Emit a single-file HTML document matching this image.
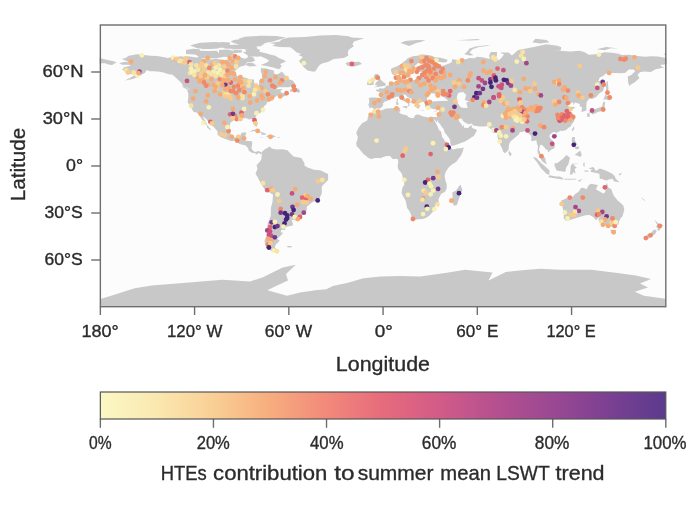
<!DOCTYPE html>
<html><head><meta charset="utf-8">
<style>
html,body{margin:0;padding:0;background:#fff;}
body{width:688px;height:513px;overflow:hidden;position:relative;font-family:"Liberation Sans",sans-serif;}
#w{position:absolute;left:0;top:0;width:688px;height:513px;will-change:transform;}
svg{position:absolute;left:0;top:0;}
text{font-family:"Liberation Sans",sans-serif;fill:#2b2b2b;stroke:#2b2b2b;stroke-width:0.35px;}
</style></head><body>
<div id="w"><svg width="688" height="513" viewBox="0 0 688 513">
<defs>
<linearGradient id="cb" x1="0" x2="1" y1="0" y2="0">
<stop offset="0" stop-color="#fbf8c4"/>
<stop offset="0.1" stop-color="#fae8b0"/>
<stop offset="0.2" stop-color="#f9cf96"/>
<stop offset="0.3" stop-color="#f7ad7e"/>
<stop offset="0.4" stop-color="#f2897a"/>
<stop offset="0.5" stop-color="#e66b7c"/>
<stop offset="0.6" stop-color="#d25b88"/>
<stop offset="0.7" stop-color="#b5508f"/>
<stop offset="0.8" stop-color="#9a4893"/>
<stop offset="0.9" stop-color="#7b4092"/>
<stop offset="1" stop-color="#5b3a8e"/>
</linearGradient>
</defs>
<rect x="100.35" y="25.0" width="565.45" height="281.70" fill="#fcfcfc"/>
<path d="M119.2,63.2L124.7,61.8L128.9,62.4L126.0,60.8L122.0,59.0L121.1,58.9L125.5,57.9L128.8,55.8L137.1,54.2L144.3,55.0L150.6,55.8L156.9,56.1L161.6,56.8L167.9,57.9L171.8,56.9L176.5,57.1L180.5,56.3L185.2,57.1L187.5,56.3L193.0,57.1L199.3,57.9L204.0,59.0L211.9,59.4L215.8,58.8L222.9,59.7L229.1,59.7L232.3,59.0L234.6,53.5L237.0,55.5L240.9,57.4L244.9,58.8L249.6,56.6L253.5,57.6L255.1,60.7L251.1,62.2L247.7,61.8L244.9,65.4L240.6,66.6L235.4,70.2L235.1,73.8L237.8,76.3L244.9,77.4L249.6,79.3L253.8,79.6L254.3,82.9L256.6,85.6L259.0,85.1L259.1,80.6L262.4,77.7L261.8,74.3L260.6,70.7L261.2,68.0L266.1,68.5L270.0,69.6L273.9,70.4L273.9,73.5L277.1,74.6L280.2,72.7L281.8,71.5L285.7,75.9L288.0,79.0L292.8,80.4L295.6,84.3L293.5,85.3L288.8,87.3L278.6,87.3L274.7,89.9L271.9,92.3L275.5,89.2L281.8,89.0L282.1,90.1L280.2,90.7L281.3,92.6L286.5,94.2L288.8,93.5L287.3,95.1L280.2,97.8L279.1,96.4L281.8,95.0L277.8,95.4L275.5,96.7L272.8,97.6L271.9,99.8L273.1,100.6L270.8,101.1L266.8,102.2L266.8,104.0L264.8,105.6L263.4,107.2L264.5,110.3L262.8,111.5L259.8,113.0L256.6,115.3L255.2,118.1L256.5,121.4L257.4,123.9L256.8,126.4L255.7,126.4L254.6,124.4L253.2,121.6L251.8,119.1L249.1,119.4L246.4,118.3L244.1,118.3L241.7,118.6L242.7,120.3L239.4,119.7L235.7,119.4L233.9,120.2L230.4,122.8L229.9,125.5L229.5,130.6L230.4,133.3L232.3,136.1L234.6,137.4L237.8,136.7L240.1,136.1L241.1,133.8L241.7,132.7L246.4,132.2L245.6,134.9L244.9,136.9L244.4,140.5L247.2,141.1L251.1,141.1L252.4,142.5L251.8,146.3L251.5,148.6L253.2,151.0L255.4,151.9L258.2,151.0L261.5,152.2L260.7,154.6L259.0,152.7L256.8,154.4L255.1,153.3L251.9,152.7L248.6,150.4L248.2,148.3L245.6,145.5L242.5,144.7L239.4,143.9L237.0,141.4L233.9,140.8L231.5,141.3L228.0,140.0L223.6,138.3L220.5,136.9L217.4,134.6L217.8,132.2L216.9,130.5L213.4,126.7L211.1,124.8L208.7,122.2L206.4,119.2L202.9,116.2L203.7,118.6L205.9,121.7L206.8,124.4L209.5,128.0L211.1,129.5L210.1,130.0L207.2,127.4L206.8,125.2L203.2,122.8L203.7,121.6L201.2,118.6L199.1,115.0L196.9,112.6L193.6,111.9L191.6,108.6L190.7,106.7L188.6,103.6L187.7,102.5L188.0,100.1L188.3,97.0L188.3,93.4L187.2,90.1L189.9,89.2L186.7,87.3L182.8,86.0L182.0,83.7L178.6,80.2L176.5,78.2L172.6,74.8L168.7,74.3L163.5,72.6L159.3,71.8L154.1,71.2L149.8,71.2L146.7,70.1L145.1,72.7L141.2,75.1L137.3,77.4L132.5,79.0L127.8,80.1L124.7,80.6L129.4,78.2L134.1,75.4L136.2,73.8L133.3,74.3L128.9,74.0L128.3,72.3L125.2,71.9L123.6,70.4L122.2,69.6L124.2,67.3L130.2,65.7L130.2,64.9L127.1,64.8L122.0,64.8ZM288.8,37.5L304.5,36.9L320.2,35.5L336.0,35.0L348.5,36.3L351.7,37.5L364.2,38.3L354.0,41.4L352.4,44.6L354.0,46.1L348.5,50.0L347.7,53.2L348.5,55.5L343.8,57.9L333.6,59.1L328.1,62.1L322.6,63.2L319.5,64.9L317.1,68.4L315.2,71.6L312.4,71.6L307.7,70.4L303.8,67.3L301.4,64.1L299.0,61.3L301.4,58.6L303.0,57.1L298.3,55.0L301.4,54.0L296.7,52.4L293.1,49.3L290.4,47.2L279.4,46.9L272.3,45.7L275.5,44.1L269.2,43.0L279.4,41.4L282.6,39.1ZM261.5,152.2L264.5,149.4L270.0,146.6L271.6,148.6L276.3,149.4L282.6,149.3L287.3,150.2L293.5,156.5L301.4,158.0L304.5,163.2L304.5,165.8L307.7,167.4L314.0,169.8L320.2,170.2L328.1,174.1L328.1,179.9L321.8,186.2L321.8,193.2L318.7,200.3L312.9,201.8L306.9,206.5L306.7,210.5L301.4,215.9L299.0,219.1L296.7,220.6L291.3,219.4L292.8,223.0L292.8,225.6L285.7,226.9L285.2,229.7L281.0,230.0L281.0,232.4L283.3,232.8L280.2,236.3L277.1,238.6L279.7,240.7L275.8,244.4L274.7,247.2L275.8,248.5L279.4,251.9L273.1,251.9L266.1,248.0L264.5,241.0L266.8,234.7L267.6,230.0L267.6,223.8L270.8,215.9L270.9,208.1L272.5,201.8L273.0,194.8L264.5,189.3L260.6,183.1L257.4,176.8L255.5,173.7L257.4,169.0L256.6,165.1L259.0,162.7L261.3,159.6L261.7,154.9ZM286.8,246.0L292.0,246.1L291.5,247.2L288.0,247.5ZM374.3,109.5L373.0,108.3L371.5,107.6L369.1,107.9L369.3,105.9L368.2,105.1L369.1,102.9L369.3,100.1L368.5,98.6L370.5,97.5L374.3,97.6L377.6,97.8L380.2,97.9L381.2,95.7L381.2,93.9L379.6,92.1L376.0,90.9L375.8,89.8L378.4,89.5L380.1,88.1L381.2,88.5L383.4,88.4L385.4,87.3L385.6,86.2L387.8,85.6L389.0,85.3L390.3,83.8L390.9,82.9L393.8,82.1L396.0,82.1L396.9,81.3L396.6,79.0L395.8,77.3L397.8,76.3L399.7,75.5L399.3,77.4L400.2,77.7L398.8,79.8L400.2,80.7L402.7,80.7L405.5,81.5L409.0,80.6L412.3,80.2L414.3,79.9L416.4,79.0L416.1,77.0L418.6,75.5L420.0,76.6L421.4,76.2L421.2,74.6L420.0,73.2L423.9,72.6L427.1,72.7L430.5,72.1L428.3,71.2L424.7,71.3L419.2,72.1L416.7,70.7L416.8,68.0L418.4,66.0L421.9,64.3L423.0,63.8L420.8,62.9L417.9,62.9L416.5,64.4L414.5,66.2L411.3,67.7L410.2,69.6L410.1,70.9L412.6,71.9L411.8,73.2L409.3,75.2L408.8,77.3L406.2,77.9L403.5,79.1L403.2,77.4L401.8,75.7L400.7,73.7L399.4,72.7L396.1,74.8L393.3,74.9L391.9,73.5L391.2,71.2L390.9,69.0L392.5,67.9L396.4,66.5L399.6,64.9L402.7,62.6L405.9,60.2L407.4,58.6L410.6,57.1L413.7,56.1L417.6,55.8L420.5,54.7L423.4,54.6L427.8,54.9L431.8,55.8L434.9,57.2L440.4,57.7L447.5,59.7L446.7,61.9L443.5,62.6L434.9,61.6L437.3,64.9L442.0,66.0L445.9,64.8L451.4,62.6L452.5,59.0L455.3,59.7L458.5,60.1L467.1,59.0L468.7,58.0L474.2,58.2L477.3,56.8L483.6,57.4L489.9,59.0L489.1,55.5L490.7,51.9L497.0,51.9L497.0,54.7L496.2,57.4L498.5,60.2L500.9,58.6L504.0,54.4L500.1,52.4L508.7,52.4L511.9,55.5L518.2,50.0L533.9,46.9L546.4,44.2L557.4,45.8L561.3,47.2L560.6,50.4L549.6,51.1L559.0,50.8L570.0,51.6L579.4,50.8L584.1,51.9L588.8,54.7L598.3,54.0L604.5,52.2L612.4,52.7L618.7,53.8L621.8,54.9L629.7,54.7L634.4,55.8L645.4,56.8L650.1,56.3L657.9,56.6L663.4,57.6L666.6,57.9L666.6,63.8L663.4,64.8L661.9,64.6L660.3,65.7L664.2,67.6L655.6,69.3L650.9,71.9L643.8,71.5L639.9,72.3L637.5,75.1L639.4,77.9L637.5,80.1L634.4,82.6L632.0,83.7L629.2,86.0L628.1,82.1L627.8,76.6L631.2,75.1L635.2,71.2L633.6,69.6L628.9,69.6L625.0,73.0L620.2,73.2L616.3,73.0L610.8,72.9L606.1,73.5L603.0,75.9L599.8,77.4L598.3,81.0L601.4,81.3L605.0,82.6L604.5,85.3L603.8,88.4L603.0,91.0L599.8,93.1L595.9,97.3L592.0,98.9L589.6,98.6L588.4,99.7L586.8,101.7L586.3,105.4L586.5,109.5L586.0,110.8L583.3,111.5L581.5,111.9L581.8,108.7L582.2,106.8L579.9,106.8L579.7,104.0L578.3,103.4L575.0,102.5L573.4,105.0L573.1,102.0L570.8,103.4L568.4,104.5L567.9,105.8L569.8,107.3L572.8,106.7L575.5,107.6L572.3,109.4L570.3,111.2L572.0,112.2L573.0,114.8L574.5,116.2L574.4,117.5L574.7,119.2L573.9,121.6L571.6,124.4L570.8,126.4L568.4,127.7L566.1,130.0L562.4,131.0L561.3,130.6L558.2,132.0L556.6,132.7L556.3,134.1L555.4,132.2L553.5,131.9L550.7,133.8L549.3,136.1L550.4,138.5L553.5,141.6L554.8,144.7L554.6,147.9L552.7,148.9L550.8,149.9L548.0,152.4L547.7,149.9L545.6,149.3L544.2,147.1L541.6,144.7L540.1,145.2L538.9,149.7L539.8,151.5L540.8,154.4L541.7,155.1L543.6,156.1L545.5,158.7L545.5,161.2L546.9,163.7L545.6,163.8L542.3,161.6L540.9,159.3L540.6,156.5L537.8,153.3L537.5,151.0L537.9,146.3L536.7,142.7L536.4,140.0L533.1,141.1L531.0,140.8L531.5,137.7L530.7,135.3L528.4,133.5L527.6,131.6L525.2,131.0L522.9,131.7L519.7,132.2L518.9,134.6L515.8,136.9L512.3,139.9L510.3,141.4L509.0,144.7L508.6,149.7L506.4,151.9L504.8,153.2L503.2,151.8L502.0,148.2L500.4,145.2L498.4,140.8L497.4,136.1L497.4,132.7L496.6,131.6L493.8,133.3L491.5,131.0L493.5,130.0L490.7,129.1L488.8,127.5L487.5,126.1L484.4,126.4L479.8,126.4L475.0,125.8L473.1,125.5L471.8,123.4L468.7,124.2L465.5,122.7L463.5,121.6L461.9,118.7L459.9,118.4L458.5,119.5L459.3,121.7L461.0,123.8L461.8,124.8L462.4,126.7L463.7,125.0L464.1,126.9L463.8,127.8L467.9,128.1L470.2,125.9L471.5,124.7L471.7,126.9L472.9,128.6L475.3,128.9L477.0,130.6L475.0,133.8L473.9,136.0L472.3,136.7L469.9,138.6L465.1,141.4L460.8,143.0L458.5,143.9L454.5,145.3L451.4,146.0L450.3,143.2L450.1,140.0L448.3,136.9L446.7,134.9L444.6,132.2L443.5,128.8L441.5,126.4L440.4,124.4L438.2,121.9L438.0,119.7L436.9,122.4L434.2,119.0L433.8,116.9L436.8,116.9L437.9,115.0L438.8,112.8L439.3,110.3L439.8,108.6L437.3,108.3L434.1,109.4L431.1,108.3L428.6,108.6L426.0,107.9L424.7,105.6L425.3,104.0L424.2,103.1L423.9,102.0L421.6,101.8L420.3,102.8L418.6,102.5L419.0,104.3L420.8,106.1L419.5,106.5L418.9,108.7L417.2,108.3L416.2,106.7L416.8,105.8L415.6,104.5L414.5,103.7L413.5,102.2L413.7,100.4L412.1,99.3L409.8,98.1L407.1,96.7L405.9,95.1L404.4,94.5L402.4,95.0L402.7,96.7L404.4,97.8L406.2,100.0L408.2,101.1L410.6,101.8L412.1,103.1L410.1,102.6L409.1,103.9L409.9,104.8L408.4,106.4L407.7,105.9L408.5,104.3L407.6,103.2L406.3,102.3L404.8,101.4L402.4,100.6L400.5,99.3L399.6,98.7L399.1,97.1L397.1,96.4L394.9,97.3L393.3,98.4L390.3,97.9L387.9,98.6L388.1,100.3L386.4,101.2L384.5,101.7L382.6,104.0L383.4,105.1L382.0,107.0L379.8,108.4L376.2,108.4L374.6,109.4ZM99.6,57.9L106.6,59.7L111.3,60.7L115.3,61.8L116.5,62.4L114.5,63.5L112.1,65.1L108.2,64.4L105.1,63.3L102.2,63.3L99.6,63.8ZM562.9,200.0L566.1,198.2L569.2,197.8L573.1,196.4L575.2,194.0L578.6,191.7L581.0,188.1L583.3,187.8L586.5,189.3L588.8,184.9L591.2,183.8L595.1,184.6L597.9,184.9L595.9,189.3L601.4,192.5L603.8,193.4L605.3,191.7L605.5,186.0L606.9,182.8L608.5,187.8L611.3,189.0L612.4,192.5L614.0,196.1L617.9,200.7L620.2,202.6L623.4,205.8L624.3,210.0L623.5,212.8L622.6,215.9L620.7,218.3L618.8,221.7L618.7,224.4L615.5,225.0L612.9,227.0L609.3,226.1L604.5,225.8L602.5,224.1L600.6,221.4L598.3,220.6L599.5,216.7L596.1,220.3L593.5,217.2L589.6,215.1L585.7,215.3L581.0,216.4L577.8,217.5L573.9,218.7L568.4,220.6L565.3,220.6L563.7,218.3L563.7,212.8L562.4,206.5L561.3,200.3ZM434.2,119.0L434.4,120.5L435.7,122.8L436.5,124.2L438.0,127.5L439.0,129.9L441.0,131.4L441.7,134.6L442.0,136.9L443.5,138.5L444.8,141.1L447.8,143.2L449.5,145.2L451.1,147.1L450.8,147.7L453.1,149.6L457.7,148.3L460.8,148.2L463.7,147.4L463.3,149.4L462.7,151.8L460.8,155.7L458.5,158.8L456.1,161.9L452.2,164.3L449.0,167.1L447.0,169.8L445.4,172.4L444.6,176.0L445.1,178.4L445.6,181.5L446.7,183.8L446.7,188.5L445.1,191.7L441.2,193.7L438.5,199.0L438.8,203.1L434.9,205.8L434.6,207.9L434.1,210.5L432.1,212.5L430.2,215.1L427.1,217.2L423.9,218.7L420.8,219.2L417.6,219.2L414.5,220.3L412.6,219.7L412.0,219.1L411.7,216.7L410.2,212.8L409.0,210.5L407.1,208.1L405.9,201.8L405.4,200.3L402.7,195.6L401.6,192.9L402.4,187.8L404.4,184.6L403.8,180.7L402.4,176.0L401.9,173.7L400.4,171.8L398.0,169.0L397.7,165.8L398.2,162.7L398.0,159.6L396.4,158.7L394.1,159.0L392.5,159.1L390.9,157.1L390.1,156.0L387.0,156.0L384.6,156.6L380.7,158.0L378.4,157.9L375.2,157.9L371.3,159.0L368.9,158.2L365.8,155.7L363.4,154.1L362.3,152.5L360.3,150.2L358.7,147.9L356.8,146.4L356.1,143.2L357.2,140.5L357.8,136.9L357.2,135.3L356.2,133.0L357.9,129.1L359.8,125.9L362.3,123.1L365.0,121.7L367.4,120.2L367.8,117.3L369.6,113.9L372.4,112.5L373.8,109.8L374.8,109.7L379.1,110.9L383.1,109.7L386.2,108.6L390.9,108.3L395.6,108.1L398.5,107.5L400.4,107.9L399.6,109.2L400.5,110.6L399.1,112.2L400.4,113.4L402.7,114.5L406.9,115.3L408.2,116.9L412.1,118.3L414.3,117.6L414.6,115.8L416.8,114.4L419.2,114.8L422.3,116.2L428.6,117.5L431.0,116.6L433.8,116.9ZM460.5,184.6L462.4,190.1L460.8,193.2L456.9,205.0L453.8,205.8L451.7,200.3L452.7,196.4L452.2,192.5L456.1,190.4L458.5,187.0ZM277.8,69.1L273.1,67.6L267.6,66.3L260.6,64.9L265.3,63.3L269.2,61.0L266.8,59.1L260.6,56.3L257.4,56.8L248.0,55.5L242.5,51.9L248.8,50.8L256.6,50.4L261.3,52.2L266.8,53.5L270.8,54.7L275.5,55.8L277.8,57.4L284.1,60.2L286.0,61.5L280.2,64.1L281.8,66.5L279.4,68.2L281.8,69.3ZM198.5,56.3L195.4,54.7L196.2,52.4L200.9,50.8L207.2,51.1L216.6,50.8L218.9,53.2L224.4,55.0L223.6,57.1L216.6,58.2L207.2,58.6L196.9,57.9ZM186.0,50.0L193.0,48.8L199.3,49.3L202.4,53.2L194.6,54.4L186.0,54.0ZM238.6,44.6L232.3,42.5L241.7,41.4L238.6,38.8L244.9,36.7L260.6,35.8L276.3,36.1L285.7,37.5L273.1,41.4L265.3,43.0L260.6,46.3L254.3,46.4L242.5,46.1ZM230.7,41.4L233.9,39.9L241.7,39.1L246.4,41.4L233.9,43.0ZM257.4,49.1L249.6,49.3L238.6,48.8L237.0,46.6L243.3,46.0L256.6,46.6ZM233.9,50.0L241.7,50.0L241.7,52.4L233.1,53.2ZM222.9,50.8L227.6,50.0L232.3,50.8L230.7,53.5L222.9,53.2ZM193.0,44.6L197.7,45.3L204.0,46.0L213.4,45.7L219.7,46.9L218.2,48.5L210.3,49.1L202.4,49.1L197.7,47.7L191.5,46.1ZM221.3,46.1L229.1,45.3L237.0,46.9L235.4,49.1L224.4,48.5ZM221.3,41.9L230.7,42.5L226.0,44.6L216.6,44.6ZM232.3,56.6L233.9,58.2L227.6,58.6ZM245.6,64.9L248.0,62.6L253.5,63.3L256.6,66.0L249.6,66.5ZM289.9,90.3L291.2,89.2L292.8,86.5L295.9,85.1L295.9,87.9L299.0,88.9L300.1,91.5L299.0,92.8L295.1,91.4L289.9,91.4ZM189.4,90.1L186.7,89.2L181.6,86.5L183.6,86.3L187.5,88.1ZM249.6,131.6L252.7,130.0L255.8,129.5L258.2,130.6L261.3,132.0L264.5,133.0L266.7,134.2L264.5,134.7L261.2,134.7L261.8,133.5L259.8,132.2L256.6,131.7L254.3,131.1L251.1,131.6ZM266.1,137.1L268.4,134.7L270.8,134.7L273.9,135.5L275.8,136.7L273.1,137.4L270.8,138.3L269.2,137.5ZM259.9,137.2L263.2,137.4L262.4,137.8L260.2,137.7ZM277.4,137.1L280.0,137.2L279.9,137.7L277.5,137.7ZM378.0,85.4L374.9,84.9L376.0,82.4L378.4,80.6L374.4,79.0L373.7,76.6L375.2,74.1L377.6,74.1L379.9,76.6L380.7,79.8L383.1,82.1L385.7,83.4L385.4,85.7L374.1,87.6ZM370.5,85.3L366.9,84.8L367.4,81.3L371.3,79.3L373.7,81.0L373.7,84.5ZM345.4,63.3L348.5,61.9L359.5,61.8L361.9,64.1L354.8,66.6L347.7,66.0ZM402.6,106.2L407.6,105.9L406.8,108.4L402.7,107.0ZM396.0,101.8L398.0,101.4L398.5,104.7L396.4,105.0ZM396.6,99.7L398.0,98.6L397.8,101.1L396.6,101.1ZM420.0,110.6L424.4,110.6L424.1,111.1L420.5,110.8ZM433.8,111.5L437.4,110.0L436.3,111.2L434.6,111.7ZM465.5,53.2L467.9,50.8L469.5,48.5L475.7,46.6L486.7,45.3L490.7,45.5L478.9,46.9L472.6,49.3L469.5,52.4L473.4,55.2L469.5,55.4L464.0,54.0ZM400.4,43.0L405.1,41.0L409.8,40.6L417.6,40.0L425.5,40.3L420.8,41.9L416.1,43.0L412.9,44.6L409.0,46.1L405.1,44.6ZM456.9,40.3L477.3,39.1L480.5,39.9L469.5,40.6ZM535.4,38.8L546.4,39.9L549.6,42.2L540.1,43.5L532.3,42.2ZM606.1,46.9L618.7,48.5L610.8,48.2L604.5,50.2L596.7,49.3ZM664.2,53.8L666.6,53.8L666.6,54.7L663.4,54.4ZM591.2,110.3L598.3,107.9L602.2,106.4L603.0,102.5L605.3,101.4L604.5,106.4L603.0,111.1L598.3,111.7L595.1,113.4L588.7,112.6ZM586.8,113.4L589.6,113.0L589.6,116.9L587.6,117.0ZM591.2,112.3L594.3,112.3L594.3,113.7L592.0,114.5ZM603.0,100.9L605.3,94.8L611.6,98.1L608.5,100.1L604.5,99.3ZM606.1,87.6L606.6,81.0L607.7,81.3L608.5,89.2L606.1,93.9ZM571.7,129.9L573.9,126.3L574.4,128.3L572.8,131.4ZM553.7,135.8L556.6,134.4L557.4,135.3L555.1,137.4ZM571.6,140.5L572.3,136.9L575.0,136.9L574.7,140.0L577.8,145.5L575.5,144.3L572.5,143.5ZM574.7,154.9L580.2,150.5L581.8,154.9L580.2,156.9L577.8,155.7ZM575.5,147.1L578.6,146.3L579.4,147.9L577.1,149.4L574.7,148.6ZM508.4,153.3L509.0,150.5L511.7,154.1L510.3,156.5ZM554.3,163.5L557.4,163.0L562.9,158.8L566.5,154.9L570.0,157.7L568.4,164.3L566.1,167.4L565.3,172.1L562.9,171.6L556.6,170.5L554.6,165.8ZM532.8,157.1L536.2,157.7L540.9,162.7L546.4,167.4L549.6,170.5L549.3,174.9L546.4,173.7L540.9,168.2L537.8,163.2ZM548.3,176.5L549.6,175.2L555.9,176.5L559.8,176.6L562.9,177.9L562.9,179.5L555.9,178.5L549.6,177.6ZM563.7,178.7L570.0,178.7L576.3,178.8L576.3,179.6L570.0,179.8L563.7,179.6ZM577.8,180.4L582.9,179.0L579.4,181.8ZM570.0,174.5L570.8,165.8L572.3,163.8L579.4,163.5L573.1,164.6L576.7,167.4L574.7,169.0L575.5,173.7L573.1,172.1L572.3,174.5ZM583.3,163.0L584.9,162.4L584.4,165.1L584.9,167.1L583.3,165.8ZM584.1,170.5L588.1,170.5L588.5,171.8L584.9,171.8ZM588.8,168.2L593.5,167.1L595.9,171.0L599.8,168.4L604.5,169.9L611.9,173.4L614.8,176.0L615.5,178.4L619.5,182.3L614.3,181.5L612.4,178.7L608.8,179.6L606.9,180.4L604.5,180.1L601.4,178.7L599.8,179.0L599.4,173.7L595.1,172.7L591.2,172.1L590.4,170.2L592.8,169.4L590.4,169.0ZM618.7,174.5L621.8,172.4L621.0,174.5L619.5,175.6ZM610.2,229.7L616.0,229.9L615.5,233.5L612.4,234.1L610.8,231.6ZM654.3,219.8L657.2,222.2L659.5,224.5L663.4,224.9L661.1,227.2L659.5,230.5L657.3,230.5L657.9,227.7L656.1,227.2L657.2,224.5ZM654.3,229.2L656.8,231.1L654.8,234.4L652.0,235.5L648.5,238.8L644.6,237.8L647.0,234.7L650.9,233.0ZM640.7,197.5L642.2,197.9L645.4,200.6L644.6,200.7ZM100.2,299.0L112.0,295.4L134.7,288.3L151.7,285.4L180.0,283.2L222.5,279.8L250.0,281.6L263.0,277.3L274.0,271.8L282.7,267.4L295.8,264.8L286.0,274.0L288.0,280.5L276.0,286.0L267.4,290.3L287.0,295.8L300.0,292.5L315.4,290.3L326.3,289.2L332.8,286.0L348.0,282.7L363.4,278.3L380.8,276.6L400.0,276.0L420.3,276.5L434.6,274.4L446.8,272.8L465.1,269.7L477.3,271.0L492.6,272.4L488.5,280.5L505.8,272.0L522.0,270.3L540.2,268.7L560.5,269.7L591.0,269.7L615.5,272.8L635.8,275.4L651.0,278.9L640.0,283.6L648.0,287.6L634.8,291.7L644.0,295.8L665.4,298.8L665.4,306.8L100.2,306.8ZM219.0,50.0L228.0,49.5L234.0,51.0L233.0,55.5L226.0,57.0L219.0,56.0ZM229.0,45.0L240.0,44.5L246.0,46.0L244.0,49.0L232.0,49.5ZM190.0,45.5L200.0,42.8L215.0,42.0L230.0,43.0L229.0,47.0L215.0,48.0L198.0,48.5ZM245.0,49.0L255.0,48.0L260.0,50.0L258.0,56.0L248.0,57.0Z" fill="#c8c8c8"/>
<path d="M427.1,101.4L427.1,97.8L429.9,95.0L431.5,93.1L435.7,93.9L435.7,96.2L440.4,95.0L444.3,92.3L442.8,96.2L448.4,100.7L439.6,100.9L431.8,101.5ZM458.5,92.8L463.2,92.0L466.3,95.1L464.8,99.8L469.0,101.7L466.3,102.5L467.7,107.9L462.1,107.8L460.0,106.4L456.9,101.7L456.9,96.2Z" fill="#fcfcfc"/>
<circle cx="139.5" cy="71.7" r="2.4" fill="#a0468b"/><circle cx="225.4" cy="84.7" r="2.4" fill="#72368b"/><circle cx="141.9" cy="55.3" r="2.4" fill="#f7f2b3"/><circle cx="131.0" cy="61.7" r="2.4" fill="#f6aa74"/><circle cx="126.3" cy="70.5" r="2.4" fill="#f9e3a1"/><circle cx="128.0" cy="72.5" r="2.4" fill="#f8cb8b"/><circle cx="133.6" cy="72.5" r="2.4" fill="#f9e3a1"/><circle cx="137.2" cy="75.6" r="2.4" fill="#f7f2b3"/><circle cx="138.6" cy="73.1" r="2.4" fill="#f6aa74"/><circle cx="173.1" cy="57.6" r="2.4" fill="#f7f2b3"/><circle cx="176.0" cy="59.3" r="2.4" fill="#f6aa74"/><circle cx="179.5" cy="60.8" r="2.4" fill="#f7f2b3"/><circle cx="176.6" cy="58.9" r="2.4" fill="#f8cb8b"/><circle cx="181.4" cy="61.1" r="2.4" fill="#f9e3a1"/><circle cx="185.7" cy="58.4" r="2.4" fill="#f8cb8b"/><circle cx="184.1" cy="62.7" r="2.4" fill="#f8cb8b"/><circle cx="189.5" cy="62.1" r="2.4" fill="#e1646d"/><circle cx="207.7" cy="57.9" r="2.4" fill="#f6aa74"/><circle cx="235.0" cy="56.3" r="2.4" fill="#f08967"/><circle cx="203.9" cy="61.6" r="2.4" fill="#f6aa74"/><circle cx="212.5" cy="64.3" r="2.4" fill="#f6aa74"/><circle cx="226.4" cy="62.7" r="2.4" fill="#f6aa74"/><circle cx="232.9" cy="61.1" r="2.4" fill="#f6aa74"/><circle cx="236.6" cy="62.1" r="2.4" fill="#f8cb8b"/><circle cx="191.0" cy="68.6" r="2.4" fill="#f7f2b3"/><circle cx="196.4" cy="65.4" r="2.4" fill="#f9e3a1"/><circle cx="200.7" cy="66.4" r="2.4" fill="#f8cb8b"/><circle cx="206.1" cy="65.4" r="2.4" fill="#f9e3a1"/><circle cx="209.3" cy="68.0" r="2.4" fill="#f08967"/><circle cx="215.7" cy="67.5" r="2.4" fill="#f7f2b3"/><circle cx="220.0" cy="69.7" r="2.4" fill="#f7f2b3"/><circle cx="224.3" cy="66.4" r="2.4" fill="#f8cb8b"/><circle cx="228.6" cy="64.8" r="2.4" fill="#f6aa74"/><circle cx="231.8" cy="68.0" r="2.4" fill="#f6aa74"/><circle cx="236.1" cy="66.4" r="2.4" fill="#f9e3a1"/><circle cx="190.0" cy="72.9" r="2.4" fill="#f9e3a1"/><circle cx="194.3" cy="71.3" r="2.4" fill="#f7f2b3"/><circle cx="201.8" cy="73.4" r="2.4" fill="#f8cb8b"/><circle cx="208.2" cy="72.3" r="2.4" fill="#f9e3a1"/><circle cx="213.6" cy="71.8" r="2.4" fill="#f7f2b3"/><circle cx="217.9" cy="72.9" r="2.4" fill="#f7f2b3"/><circle cx="223.2" cy="71.8" r="2.4" fill="#f9e3a1"/><circle cx="227.5" cy="70.7" r="2.4" fill="#f08967"/><circle cx="231.3" cy="72.9" r="2.4" fill="#f6aa74"/><circle cx="197.5" cy="77.2" r="2.4" fill="#f6aa74"/><circle cx="202.9" cy="79.3" r="2.4" fill="#f6aa74"/><circle cx="207.2" cy="77.2" r="2.4" fill="#f8cb8b"/><circle cx="211.4" cy="79.3" r="2.4" fill="#f6aa74"/><circle cx="215.7" cy="76.1" r="2.4" fill="#f9e3a1"/><circle cx="220.0" cy="79.3" r="2.4" fill="#f08967"/><circle cx="224.3" cy="77.2" r="2.4" fill="#f8cb8b"/><circle cx="226.4" cy="80.4" r="2.4" fill="#f6aa74"/><circle cx="230.7" cy="82.5" r="2.4" fill="#e1646d"/><circle cx="235.0" cy="79.3" r="2.4" fill="#f6aa74"/><circle cx="239.3" cy="81.4" r="2.4" fill="#f6aa74"/><circle cx="187.0" cy="80.9" r="2.4" fill="#c8527f"/><circle cx="204.0" cy="82.5" r="2.4" fill="#f08967"/><circle cx="208.2" cy="84.7" r="2.4" fill="#f6aa74"/><circle cx="213.6" cy="84.7" r="2.4" fill="#f6aa74"/><circle cx="217.9" cy="83.6" r="2.4" fill="#f8cb8b"/><circle cx="222.2" cy="85.2" r="2.4" fill="#f6aa74"/><circle cx="228.6" cy="87.9" r="2.4" fill="#f6aa74"/><circle cx="234.0" cy="86.8" r="2.4" fill="#f08967"/><circle cx="238.2" cy="85.7" r="2.4" fill="#f08967"/><circle cx="242.5" cy="85.7" r="2.4" fill="#f8cb8b"/><circle cx="216.8" cy="87.9" r="2.4" fill="#f8cb8b"/><circle cx="195.4" cy="91.1" r="2.4" fill="#f6aa74"/><circle cx="214.7" cy="91.1" r="2.4" fill="#f6aa74"/><circle cx="207.7" cy="95.4" r="2.4" fill="#f6aa74"/><circle cx="193.2" cy="98.6" r="2.4" fill="#f6aa74"/><circle cx="224.3" cy="92.2" r="2.4" fill="#f8cb8b"/><circle cx="228.6" cy="94.3" r="2.4" fill="#f9e3a1"/><circle cx="232.9" cy="91.1" r="2.4" fill="#f08967"/><circle cx="236.1" cy="93.2" r="2.4" fill="#f08967"/><circle cx="242.5" cy="95.4" r="2.4" fill="#f9e3a1"/><circle cx="230.7" cy="98.6" r="2.4" fill="#f8cb8b"/><circle cx="303.8" cy="63.2" r="2.4" fill="#f7f2b3"/><circle cx="265.7" cy="71.8" r="2.4" fill="#f6aa74"/><circle cx="264.7" cy="76.1" r="2.4" fill="#f6aa74"/><circle cx="275.4" cy="77.2" r="2.4" fill="#f6aa74"/><circle cx="286.6" cy="78.2" r="2.4" fill="#f8cb8b"/><circle cx="270.0" cy="80.4" r="2.4" fill="#f08967"/><circle cx="281.8" cy="80.4" r="2.4" fill="#f08967"/><circle cx="279.7" cy="83.0" r="2.4" fill="#f6aa74"/><circle cx="262.0" cy="80.9" r="2.4" fill="#f6aa74"/><circle cx="272.2" cy="85.7" r="2.4" fill="#f08967"/><circle cx="274.3" cy="86.8" r="2.4" fill="#f08967"/><circle cx="293.6" cy="86.3" r="2.4" fill="#f08967"/><circle cx="294.7" cy="90.0" r="2.4" fill="#f08967"/><circle cx="286.6" cy="93.2" r="2.4" fill="#f08967"/><circle cx="280.2" cy="96.4" r="2.4" fill="#f6aa74"/><circle cx="261.4" cy="87.9" r="2.4" fill="#f6aa74"/><circle cx="258.2" cy="88.9" r="2.4" fill="#f8cb8b"/><circle cx="265.7" cy="91.1" r="2.4" fill="#f8cb8b"/><circle cx="253.9" cy="94.3" r="2.4" fill="#f7f2b3"/><circle cx="249.6" cy="95.4" r="2.4" fill="#f8cb8b"/><circle cx="244.3" cy="92.2" r="2.4" fill="#f08967"/><circle cx="243.2" cy="87.9" r="2.4" fill="#f6aa74"/><circle cx="245.4" cy="80.9" r="2.4" fill="#f8cb8b"/><circle cx="249.6" cy="81.4" r="2.4" fill="#f9e3a1"/><circle cx="241.1" cy="82.5" r="2.4" fill="#f6aa74"/><circle cx="248.6" cy="85.7" r="2.4" fill="#f9e3a1"/><circle cx="261.4" cy="95.4" r="2.4" fill="#f6aa74"/><circle cx="267.9" cy="94.3" r="2.4" fill="#f08967"/><circle cx="272.2" cy="97.5" r="2.4" fill="#f6aa74"/><circle cx="256.1" cy="85.7" r="2.4" fill="#f8cb8b"/><circle cx="255.0" cy="90.0" r="2.4" fill="#f9e3a1"/><circle cx="206.1" cy="101.4" r="2.4" fill="#f6aa74"/><circle cx="191.1" cy="105.7" r="2.4" fill="#f9e3a1"/><circle cx="208.8" cy="107.3" r="2.4" fill="#f7f2b3"/><circle cx="200.7" cy="113.8" r="2.4" fill="#f6aa74"/><circle cx="203.4" cy="122.9" r="2.4" fill="#f7f2b3"/><circle cx="210.4" cy="121.8" r="2.4" fill="#e1646d"/><circle cx="212.0" cy="123.4" r="2.4" fill="#f8cb8b"/><circle cx="224.3" cy="122.9" r="2.4" fill="#f6aa74"/><circle cx="228.6" cy="130.9" r="2.4" fill="#f08967"/><circle cx="221.1" cy="134.1" r="2.4" fill="#f8cb8b"/><circle cx="224.8" cy="135.2" r="2.4" fill="#f8cb8b"/><circle cx="231.8" cy="136.8" r="2.4" fill="#f6aa74"/><circle cx="238.2" cy="136.8" r="2.4" fill="#f8cb8b"/><circle cx="237.2" cy="140.6" r="2.4" fill="#f08967"/><circle cx="244.1" cy="138.4" r="2.4" fill="#f6aa74"/><circle cx="232.9" cy="108.9" r="2.4" fill="#f6aa74"/><circle cx="230.2" cy="114.3" r="2.4" fill="#e1646d"/><circle cx="235.0" cy="115.9" r="2.4" fill="#f08967"/><circle cx="236.6" cy="119.1" r="2.4" fill="#f08967"/><circle cx="232.9" cy="117.5" r="2.4" fill="#f8cb8b"/><circle cx="240.4" cy="119.1" r="2.4" fill="#f8cb8b"/><circle cx="241.5" cy="112.7" r="2.4" fill="#e1646d"/><circle cx="242.0" cy="115.4" r="2.4" fill="#f6aa74"/><circle cx="242.5" cy="98.2" r="2.4" fill="#f9e3a1"/><circle cx="244.1" cy="108.9" r="2.4" fill="#f7f2b3"/><circle cx="229.7" cy="96.6" r="2.4" fill="#f8cb8b"/><circle cx="225.4" cy="95.0" r="2.4" fill="#f9e3a1"/><circle cx="227.5" cy="127.2" r="2.4" fill="#f7f2b3"/><circle cx="250.2" cy="102.5" r="2.4" fill="#f6aa74"/><circle cx="257.1" cy="100.4" r="2.4" fill="#f6aa74"/><circle cx="262.5" cy="98.2" r="2.4" fill="#f6aa74"/><circle cx="268.9" cy="99.3" r="2.4" fill="#f6aa74"/><circle cx="249.6" cy="96.1" r="2.4" fill="#f6aa74"/><circle cx="256.6" cy="113.2" r="2.4" fill="#f7f2b3"/><circle cx="263.0" cy="110.0" r="2.4" fill="#f7f2b3"/><circle cx="254.5" cy="120.2" r="2.4" fill="#e1646d"/><circle cx="255.5" cy="123.4" r="2.4" fill="#f8cb8b"/><circle cx="257.7" cy="130.9" r="2.4" fill="#f6aa74"/><circle cx="270.5" cy="136.8" r="2.4" fill="#f6aa74"/><circle cx="263.0" cy="183.2" r="2.4" fill="#f9e3a1"/><circle cx="267.3" cy="190.2" r="2.4" fill="#e1646d"/><circle cx="271.1" cy="188.6" r="2.4" fill="#f6aa74"/><circle cx="272.7" cy="190.2" r="2.4" fill="#f8cb8b"/><circle cx="277.5" cy="194.5" r="2.4" fill="#f7f2b3"/><circle cx="279.1" cy="200.9" r="2.4" fill="#f8cb8b"/><circle cx="295.2" cy="189.1" r="2.4" fill="#f6aa74"/><circle cx="292.0" cy="193.4" r="2.4" fill="#c8527f"/><circle cx="318.2" cy="181.1" r="2.4" fill="#f8cb8b"/><circle cx="322.3" cy="180.0" r="2.4" fill="#f9e3a1"/><circle cx="305.4" cy="195.5" r="2.4" fill="#f8cb8b"/><circle cx="302.2" cy="197.7" r="2.4" fill="#e1646d"/><circle cx="305.9" cy="199.3" r="2.4" fill="#e1646d"/><circle cx="307.5" cy="196.1" r="2.4" fill="#f6aa74"/><circle cx="310.7" cy="198.8" r="2.4" fill="#f6aa74"/><circle cx="303.2" cy="202.0" r="2.4" fill="#f8cb8b"/><circle cx="306.4" cy="202.5" r="2.4" fill="#f8cb8b"/><circle cx="317.7" cy="200.4" r="2.4" fill="#45237a"/><circle cx="297.3" cy="204.7" r="2.4" fill="#f6aa74"/><circle cx="292.5" cy="206.8" r="2.4" fill="#72368b"/><circle cx="293.6" cy="210.0" r="2.4" fill="#45237a"/><circle cx="280.7" cy="208.9" r="2.4" fill="#f08967"/><circle cx="280.7" cy="212.7" r="2.4" fill="#72368b"/><circle cx="285.0" cy="213.2" r="2.4" fill="#45237a"/><circle cx="287.2" cy="215.4" r="2.4" fill="#45237a"/><circle cx="292.0" cy="214.3" r="2.4" fill="#72368b"/><circle cx="287.2" cy="218.1" r="2.4" fill="#45237a"/><circle cx="294.7" cy="217.0" r="2.4" fill="#f7f2b3"/><circle cx="300.0" cy="217.0" r="2.4" fill="#e1646d"/><circle cx="303.8" cy="212.7" r="2.4" fill="#a0468b"/><circle cx="297.9" cy="219.1" r="2.4" fill="#f6aa74"/><circle cx="286.1" cy="219.6" r="2.4" fill="#45237a"/><circle cx="284.5" cy="223.4" r="2.4" fill="#45237a"/><circle cx="283.4" cy="226.6" r="2.4" fill="#f7f2b3"/><circle cx="271.6" cy="222.3" r="2.4" fill="#72368b"/><circle cx="274.8" cy="221.8" r="2.4" fill="#f7f2b3"/><circle cx="274.8" cy="227.1" r="2.4" fill="#45237a"/><circle cx="277.5" cy="226.1" r="2.4" fill="#72368b"/><circle cx="270.0" cy="227.1" r="2.4" fill="#e1646d"/><circle cx="267.3" cy="230.4" r="2.4" fill="#a0468b"/><circle cx="270.0" cy="231.4" r="2.4" fill="#c8527f"/><circle cx="268.9" cy="234.7" r="2.4" fill="#c8527f"/><circle cx="271.1" cy="235.7" r="2.4" fill="#c8527f"/><circle cx="268.4" cy="238.9" r="2.4" fill="#f6aa74"/><circle cx="271.1" cy="241.1" r="2.4" fill="#f6aa74"/><circle cx="267.9" cy="244.3" r="2.4" fill="#f08967"/><circle cx="270.5" cy="243.2" r="2.4" fill="#f8cb8b"/><circle cx="274.8" cy="237.3" r="2.4" fill="#72368b"/><circle cx="268.9" cy="247.5" r="2.4" fill="#45237a"/><circle cx="273.8" cy="250.7" r="2.4" fill="#f7f2b3"/><circle cx="277.0" cy="251.3" r="2.4" fill="#f9e3a1"/><circle cx="369.6" cy="81.4" r="2.4" fill="#f7f2b3"/><circle cx="372.9" cy="79.8" r="2.4" fill="#f9e3a1"/><circle cx="377.7" cy="77.7" r="2.4" fill="#f08967"/><circle cx="391.1" cy="83.6" r="2.4" fill="#f6aa74"/><circle cx="395.4" cy="71.8" r="2.4" fill="#f8cb8b"/><circle cx="395.9" cy="77.7" r="2.4" fill="#f08967"/><circle cx="397.0" cy="83.0" r="2.4" fill="#f6aa74"/><circle cx="401.8" cy="66.4" r="2.4" fill="#f6aa74"/><circle cx="405.0" cy="65.4" r="2.4" fill="#f8cb8b"/><circle cx="406.1" cy="69.7" r="2.4" fill="#f9e3a1"/><circle cx="402.9" cy="72.9" r="2.4" fill="#f6aa74"/><circle cx="403.9" cy="77.2" r="2.4" fill="#f08967"/><circle cx="400.7" cy="80.4" r="2.4" fill="#f6aa74"/><circle cx="405.0" cy="82.0" r="2.4" fill="#f6aa74"/><circle cx="408.2" cy="75.0" r="2.4" fill="#f6aa74"/><circle cx="409.3" cy="70.7" r="2.4" fill="#f6aa74"/><circle cx="412.0" cy="71.8" r="2.4" fill="#f6aa74"/><circle cx="410.4" cy="79.8" r="2.4" fill="#f08967"/><circle cx="411.4" cy="61.1" r="2.4" fill="#f08967"/><circle cx="421.1" cy="56.8" r="2.4" fill="#f8cb8b"/><circle cx="421.1" cy="61.6" r="2.4" fill="#f6aa74"/><circle cx="426.5" cy="57.9" r="2.4" fill="#f08967"/><circle cx="418.4" cy="68.6" r="2.4" fill="#f08967"/><circle cx="422.2" cy="67.5" r="2.4" fill="#f08967"/><circle cx="425.4" cy="65.4" r="2.4" fill="#f08967"/><circle cx="424.3" cy="72.9" r="2.4" fill="#f08967"/><circle cx="427.5" cy="70.7" r="2.4" fill="#f08967"/><circle cx="419.0" cy="78.2" r="2.4" fill="#f08967"/><circle cx="416.8" cy="81.4" r="2.4" fill="#f6aa74"/><circle cx="420.6" cy="85.2" r="2.4" fill="#f6aa74"/><circle cx="426.5" cy="77.2" r="2.4" fill="#f08967"/><circle cx="428.6" cy="80.4" r="2.4" fill="#f08967"/><circle cx="409.3" cy="86.3" r="2.4" fill="#f8cb8b"/><circle cx="400.7" cy="90.6" r="2.4" fill="#f6aa74"/><circle cx="405.0" cy="90.0" r="2.4" fill="#f6aa74"/><circle cx="409.3" cy="91.1" r="2.4" fill="#f08967"/><circle cx="411.4" cy="92.2" r="2.4" fill="#f6aa74"/><circle cx="392.2" cy="94.3" r="2.4" fill="#f08967"/><circle cx="388.9" cy="97.5" r="2.4" fill="#f08967"/><circle cx="380.9" cy="94.8" r="2.4" fill="#f6aa74"/><circle cx="401.8" cy="97.5" r="2.4" fill="#f08967"/><circle cx="427.0" cy="94.8" r="2.4" fill="#f6aa74"/><circle cx="429.7" cy="85.7" r="2.4" fill="#f8cb8b"/><circle cx="351.9" cy="64.0" r="2.4" fill="#e1646d"/><circle cx="431.4" cy="58.9" r="2.4" fill="#f6aa74"/><circle cx="436.3" cy="60.5" r="2.4" fill="#f7f2b3"/><circle cx="435.2" cy="64.3" r="2.4" fill="#f08967"/><circle cx="432.5" cy="62.1" r="2.4" fill="#f08967"/><circle cx="427.1" cy="65.4" r="2.4" fill="#f08967"/><circle cx="429.3" cy="68.6" r="2.4" fill="#f08967"/><circle cx="434.1" cy="68.6" r="2.4" fill="#f08967"/><circle cx="438.9" cy="66.4" r="2.4" fill="#f08967"/><circle cx="442.7" cy="69.1" r="2.4" fill="#f08967"/><circle cx="443.8" cy="72.9" r="2.4" fill="#f6aa74"/><circle cx="444.3" cy="76.6" r="2.4" fill="#f6aa74"/><circle cx="426.1" cy="71.8" r="2.4" fill="#f08967"/><circle cx="431.4" cy="75.0" r="2.4" fill="#f6aa74"/><circle cx="433.0" cy="78.2" r="2.4" fill="#f08967"/><circle cx="437.9" cy="77.2" r="2.4" fill="#f6aa74"/><circle cx="450.2" cy="75.0" r="2.4" fill="#f6aa74"/><circle cx="462.0" cy="60.5" r="2.4" fill="#f6aa74"/><circle cx="458.2" cy="62.1" r="2.4" fill="#f9e3a1"/><circle cx="483.4" cy="62.1" r="2.4" fill="#f6aa74"/><circle cx="430.4" cy="85.7" r="2.4" fill="#f6aa74"/><circle cx="434.6" cy="87.9" r="2.4" fill="#f6aa74"/><circle cx="437.9" cy="91.1" r="2.4" fill="#f8cb8b"/><circle cx="428.2" cy="93.2" r="2.4" fill="#f6aa74"/><circle cx="437.9" cy="94.3" r="2.4" fill="#f6aa74"/><circle cx="443.2" cy="94.3" r="2.4" fill="#f08967"/><circle cx="450.2" cy="91.1" r="2.4" fill="#e1646d"/><circle cx="449.1" cy="95.4" r="2.4" fill="#e1646d"/><circle cx="453.9" cy="82.5" r="2.4" fill="#f8cb8b"/><circle cx="459.3" cy="80.4" r="2.4" fill="#f6aa74"/><circle cx="458.8" cy="83.6" r="2.4" fill="#f8cb8b"/><circle cx="455.0" cy="86.8" r="2.4" fill="#f6aa74"/><circle cx="464.1" cy="86.8" r="2.4" fill="#f6aa74"/><circle cx="467.9" cy="80.4" r="2.4" fill="#f08967"/><circle cx="469.5" cy="76.1" r="2.4" fill="#f6aa74"/><circle cx="470.6" cy="73.4" r="2.4" fill="#f6aa74"/><circle cx="483.4" cy="70.7" r="2.4" fill="#f6aa74"/><circle cx="487.2" cy="72.9" r="2.4" fill="#f6aa74"/><circle cx="490.4" cy="71.3" r="2.4" fill="#f6aa74"/><circle cx="478.6" cy="78.2" r="2.4" fill="#c8527f"/><circle cx="481.8" cy="80.4" r="2.4" fill="#c8527f"/><circle cx="485.0" cy="83.0" r="2.4" fill="#a0468b"/><circle cx="478.6" cy="86.3" r="2.4" fill="#a0468b"/><circle cx="482.9" cy="88.9" r="2.4" fill="#72368b"/><circle cx="490.4" cy="79.3" r="2.4" fill="#72368b"/><circle cx="490.4" cy="82.5" r="2.4" fill="#45237a"/><circle cx="491.5" cy="86.8" r="2.4" fill="#45237a"/><circle cx="493.6" cy="78.2" r="2.4" fill="#e1646d"/><circle cx="476.4" cy="93.2" r="2.4" fill="#45237a"/><circle cx="479.7" cy="93.2" r="2.4" fill="#72368b"/><circle cx="474.3" cy="97.5" r="2.4" fill="#45237a"/><circle cx="493.6" cy="97.5" r="2.4" fill="#a0468b"/><circle cx="493.6" cy="57.9" r="2.4" fill="#f7f2b3"/><circle cx="391.6" cy="96.1" r="2.4" fill="#f08967"/><circle cx="378.8" cy="100.4" r="2.4" fill="#f6aa74"/><circle cx="374.5" cy="103.0" r="2.4" fill="#f6aa74"/><circle cx="407.7" cy="100.4" r="2.4" fill="#f6aa74"/><circle cx="413.6" cy="101.4" r="2.4" fill="#f6aa74"/><circle cx="419.5" cy="100.9" r="2.4" fill="#f8cb8b"/><circle cx="416.8" cy="105.2" r="2.4" fill="#f8cb8b"/><circle cx="427.0" cy="103.0" r="2.4" fill="#f08967"/><circle cx="428.1" cy="107.9" r="2.4" fill="#f7f2b3"/><circle cx="396.4" cy="108.4" r="2.4" fill="#f6aa74"/><circle cx="374.5" cy="111.6" r="2.4" fill="#f9e3a1"/><circle cx="378.2" cy="111.6" r="2.4" fill="#f6aa74"/><circle cx="370.7" cy="114.8" r="2.4" fill="#f6aa74"/><circle cx="378.8" cy="116.4" r="2.4" fill="#f6aa74"/><circle cx="376.6" cy="140.6" r="2.4" fill="#f7f2b3"/><circle cx="406.1" cy="148.6" r="2.4" fill="#f8cb8b"/><circle cx="429.8" cy="102.0" r="2.4" fill="#f6aa74"/><circle cx="437.9" cy="95.5" r="2.4" fill="#f6aa74"/><circle cx="437.9" cy="107.9" r="2.4" fill="#f6aa74"/><circle cx="442.7" cy="109.5" r="2.4" fill="#f9e3a1"/><circle cx="438.9" cy="114.3" r="2.4" fill="#f6aa74"/><circle cx="430.9" cy="119.7" r="2.4" fill="#f6aa74"/><circle cx="455.5" cy="101.4" r="2.4" fill="#f8cb8b"/><circle cx="454.5" cy="106.8" r="2.4" fill="#72368b"/><circle cx="450.7" cy="112.7" r="2.4" fill="#f08967"/><circle cx="453.4" cy="112.7" r="2.4" fill="#f08967"/><circle cx="451.8" cy="114.8" r="2.4" fill="#f08967"/><circle cx="456.1" cy="117.5" r="2.4" fill="#f6aa74"/><circle cx="457.7" cy="116.4" r="2.4" fill="#f6aa74"/><circle cx="472.7" cy="99.8" r="2.4" fill="#f08967"/><circle cx="477.0" cy="97.7" r="2.4" fill="#72368b"/><circle cx="483.9" cy="102.5" r="2.4" fill="#f6aa74"/><circle cx="483.4" cy="105.2" r="2.4" fill="#f08967"/><circle cx="486.1" cy="105.7" r="2.4" fill="#f9e3a1"/><circle cx="489.3" cy="102.0" r="2.4" fill="#a0468b"/><circle cx="493.6" cy="97.7" r="2.4" fill="#c8527f"/><circle cx="489.3" cy="124.5" r="2.4" fill="#f7f2b3"/><circle cx="493.6" cy="129.8" r="2.4" fill="#f7f2b3"/><circle cx="433.0" cy="143.2" r="2.4" fill="#f7f2b3"/><circle cx="447.0" cy="144.8" r="2.4" fill="#e1646d"/><circle cx="448.6" cy="147.5" r="2.4" fill="#45237a"/><circle cx="445.9" cy="149.1" r="2.4" fill="#f7f2b3"/><circle cx="493.2" cy="57.3" r="2.4" fill="#f9e3a1"/><circle cx="495.4" cy="59.5" r="2.4" fill="#f9e3a1"/><circle cx="522.7" cy="52.0" r="2.4" fill="#f9e3a1"/><circle cx="521.1" cy="55.7" r="2.4" fill="#f9e3a1"/><circle cx="523.8" cy="58.9" r="2.4" fill="#f7f2b3"/><circle cx="516.8" cy="61.6" r="2.4" fill="#f7f2b3"/><circle cx="526.4" cy="63.2" r="2.4" fill="#a0468b"/><circle cx="497.5" cy="68.6" r="2.4" fill="#e1646d"/><circle cx="503.4" cy="70.2" r="2.4" fill="#c8527f"/><circle cx="493.8" cy="75.5" r="2.4" fill="#e1646d"/><circle cx="495.4" cy="77.7" r="2.4" fill="#45237a"/><circle cx="495.9" cy="80.4" r="2.4" fill="#45237a"/><circle cx="503.9" cy="79.8" r="2.4" fill="#45237a"/><circle cx="506.6" cy="80.4" r="2.4" fill="#45237a"/><circle cx="508.2" cy="83.0" r="2.4" fill="#72368b"/><circle cx="510.9" cy="85.7" r="2.4" fill="#a0468b"/><circle cx="511.4" cy="80.9" r="2.4" fill="#f8cb8b"/><circle cx="501.8" cy="84.7" r="2.4" fill="#c8527f"/><circle cx="498.6" cy="86.3" r="2.4" fill="#c8527f"/><circle cx="501.3" cy="87.9" r="2.4" fill="#c8527f"/><circle cx="514.7" cy="90.0" r="2.4" fill="#f9e3a1"/><circle cx="499.1" cy="94.3" r="2.4" fill="#e1646d"/><circle cx="502.9" cy="97.5" r="2.4" fill="#f8cb8b"/><circle cx="520.0" cy="92.2" r="2.4" fill="#f6aa74"/><circle cx="519.5" cy="99.1" r="2.4" fill="#f08967"/><circle cx="523.8" cy="78.8" r="2.4" fill="#f6aa74"/><circle cx="525.4" cy="88.4" r="2.4" fill="#f6aa74"/><circle cx="529.1" cy="88.9" r="2.4" fill="#f6aa74"/><circle cx="530.2" cy="91.1" r="2.4" fill="#f8cb8b"/><circle cx="534.5" cy="83.6" r="2.4" fill="#f8cb8b"/><circle cx="535.0" cy="88.9" r="2.4" fill="#f6aa74"/><circle cx="538.8" cy="94.3" r="2.4" fill="#f6aa74"/><circle cx="540.9" cy="95.4" r="2.4" fill="#a0468b"/><circle cx="554.3" cy="82.0" r="2.4" fill="#f6aa74"/><circle cx="558.1" cy="83.0" r="2.4" fill="#f9e3a1"/><circle cx="559.1" cy="80.4" r="2.4" fill="#f6aa74"/><circle cx="559.1" cy="84.1" r="2.4" fill="#f08967"/><circle cx="598.9" cy="54.6" r="2.4" fill="#f7f2b3"/><circle cx="620.4" cy="58.9" r="2.4" fill="#f08967"/><circle cx="624.1" cy="59.5" r="2.4" fill="#f08967"/><circle cx="579.7" cy="65.9" r="2.4" fill="#f8cb8b"/><circle cx="609.1" cy="72.9" r="2.4" fill="#f6aa74"/><circle cx="564.6" cy="87.3" r="2.4" fill="#f6aa74"/><circle cx="563.0" cy="89.5" r="2.4" fill="#f6aa74"/><circle cx="567.9" cy="90.6" r="2.4" fill="#f08967"/><circle cx="578.0" cy="92.7" r="2.4" fill="#f8cb8b"/><circle cx="578.6" cy="95.4" r="2.4" fill="#f6aa74"/><circle cx="581.8" cy="97.5" r="2.4" fill="#f6aa74"/><circle cx="564.6" cy="97.5" r="2.4" fill="#f08967"/><circle cx="590.9" cy="95.4" r="2.4" fill="#f08967"/><circle cx="602.7" cy="82.0" r="2.4" fill="#72368b"/><circle cx="603.8" cy="84.7" r="2.4" fill="#f08967"/><circle cx="597.3" cy="84.7" r="2.4" fill="#f7f2b3"/><circle cx="597.3" cy="87.9" r="2.4" fill="#c8527f"/><circle cx="607.5" cy="92.7" r="2.4" fill="#f08967"/><circle cx="609.7" cy="97.5" r="2.4" fill="#f08967"/><circle cx="499.1" cy="96.1" r="2.4" fill="#e1646d"/><circle cx="500.7" cy="100.9" r="2.4" fill="#f8cb8b"/><circle cx="504.5" cy="103.6" r="2.4" fill="#f6aa74"/><circle cx="507.1" cy="103.0" r="2.4" fill="#f8cb8b"/><circle cx="519.5" cy="99.8" r="2.4" fill="#e1646d"/><circle cx="520.5" cy="102.5" r="2.4" fill="#f8cb8b"/><circle cx="507.1" cy="111.6" r="2.4" fill="#f6aa74"/><circle cx="510.4" cy="110.0" r="2.4" fill="#f6aa74"/><circle cx="513.6" cy="108.9" r="2.4" fill="#f6aa74"/><circle cx="517.9" cy="107.9" r="2.4" fill="#f6aa74"/><circle cx="522.2" cy="107.3" r="2.4" fill="#f08967"/><circle cx="525.4" cy="110.0" r="2.4" fill="#f08967"/><circle cx="528.6" cy="109.5" r="2.4" fill="#f6aa74"/><circle cx="531.3" cy="107.3" r="2.4" fill="#f6aa74"/><circle cx="536.1" cy="106.3" r="2.4" fill="#f6aa74"/><circle cx="540.4" cy="107.9" r="2.4" fill="#f08967"/><circle cx="536.1" cy="111.1" r="2.4" fill="#f08967"/><circle cx="538.8" cy="110.5" r="2.4" fill="#f08967"/><circle cx="522.2" cy="111.6" r="2.4" fill="#a0468b"/><circle cx="515.7" cy="113.2" r="2.4" fill="#f8cb8b"/><circle cx="511.4" cy="116.4" r="2.4" fill="#f6aa74"/><circle cx="509.3" cy="114.3" r="2.4" fill="#f8cb8b"/><circle cx="517.9" cy="117.5" r="2.4" fill="#f7f2b3"/><circle cx="520.0" cy="115.4" r="2.4" fill="#f8cb8b"/><circle cx="524.3" cy="116.4" r="2.4" fill="#f6aa74"/><circle cx="527.5" cy="116.4" r="2.4" fill="#f08967"/><circle cx="517.3" cy="120.7" r="2.4" fill="#f7f2b3"/><circle cx="522.2" cy="121.8" r="2.4" fill="#f7f2b3"/><circle cx="527.0" cy="121.3" r="2.4" fill="#e1646d"/><circle cx="502.9" cy="115.9" r="2.4" fill="#f7f2b3"/><circle cx="505.0" cy="113.8" r="2.4" fill="#f6aa74"/><circle cx="501.8" cy="127.2" r="2.4" fill="#f08967"/><circle cx="506.1" cy="127.2" r="2.4" fill="#f8cb8b"/><circle cx="513.0" cy="128.2" r="2.4" fill="#f6aa74"/><circle cx="512.5" cy="130.4" r="2.4" fill="#a0468b"/><circle cx="496.4" cy="130.4" r="2.4" fill="#a0468b"/><circle cx="499.1" cy="132.5" r="2.4" fill="#f7f2b3"/><circle cx="500.7" cy="135.7" r="2.4" fill="#f7f2b3"/><circle cx="506.1" cy="136.3" r="2.4" fill="#f7f2b3"/><circle cx="499.6" cy="141.6" r="2.4" fill="#f7f2b3"/><circle cx="527.5" cy="130.4" r="2.4" fill="#c8527f"/><circle cx="535.0" cy="133.6" r="2.4" fill="#45237a"/><circle cx="540.4" cy="125.5" r="2.4" fill="#f6aa74"/><circle cx="544.1" cy="127.2" r="2.4" fill="#f08967"/><circle cx="554.3" cy="101.4" r="2.4" fill="#f8cb8b"/><circle cx="555.4" cy="104.6" r="2.4" fill="#f8cb8b"/><circle cx="559.1" cy="102.0" r="2.4" fill="#f08967"/><circle cx="557.5" cy="114.8" r="2.4" fill="#f08967"/><circle cx="559.1" cy="119.7" r="2.4" fill="#e1646d"/><circle cx="554.3" cy="136.3" r="2.4" fill="#a0468b"/><circle cx="552.2" cy="143.8" r="2.4" fill="#c8527f"/><circle cx="566.3" cy="97.7" r="2.4" fill="#f6aa74"/><circle cx="582.3" cy="97.7" r="2.4" fill="#f8cb8b"/><circle cx="567.9" cy="103.0" r="2.4" fill="#f08967"/><circle cx="555.5" cy="104.6" r="2.4" fill="#f6aa74"/><circle cx="570.5" cy="108.9" r="2.4" fill="#f8cb8b"/><circle cx="566.8" cy="111.1" r="2.4" fill="#e1646d"/><circle cx="562.0" cy="114.3" r="2.4" fill="#f08967"/><circle cx="568.9" cy="113.8" r="2.4" fill="#e1646d"/><circle cx="571.1" cy="115.9" r="2.4" fill="#f08967"/><circle cx="573.2" cy="117.0" r="2.4" fill="#f08967"/><circle cx="559.8" cy="118.0" r="2.4" fill="#e1646d"/><circle cx="563.6" cy="118.0" r="2.4" fill="#e1646d"/><circle cx="566.8" cy="118.0" r="2.4" fill="#e1646d"/><circle cx="559.8" cy="120.7" r="2.4" fill="#c8527f"/><circle cx="565.2" cy="120.7" r="2.4" fill="#f08967"/><circle cx="570.0" cy="119.7" r="2.4" fill="#f6aa74"/><circle cx="592.0" cy="110.5" r="2.4" fill="#c8527f"/><circle cx="603.2" cy="109.5" r="2.4" fill="#f08967"/><circle cx="573.8" cy="144.8" r="2.4" fill="#45237a"/><circle cx="404.8" cy="150.9" r="2.4" fill="#f8cb8b"/><circle cx="402.7" cy="155.7" r="2.4" fill="#e1646d"/><circle cx="430.6" cy="154.1" r="2.4" fill="#e1646d"/><circle cx="437.5" cy="171.8" r="2.4" fill="#f6aa74"/><circle cx="438.6" cy="177.2" r="2.4" fill="#f8cb8b"/><circle cx="433.2" cy="178.2" r="2.4" fill="#72368b"/><circle cx="427.9" cy="179.8" r="2.4" fill="#e1646d"/><circle cx="425.2" cy="182.5" r="2.4" fill="#45237a"/><circle cx="429.5" cy="183.6" r="2.4" fill="#f7f2b3"/><circle cx="431.1" cy="186.3" r="2.4" fill="#f7f2b3"/><circle cx="433.2" cy="190.6" r="2.4" fill="#f7f2b3"/><circle cx="430.6" cy="194.3" r="2.4" fill="#f7f2b3"/><circle cx="438.1" cy="188.9" r="2.4" fill="#72368b"/><circle cx="423.6" cy="190.6" r="2.4" fill="#f9e3a1"/><circle cx="425.7" cy="192.7" r="2.4" fill="#f8cb8b"/><circle cx="404.3" cy="179.8" r="2.4" fill="#f7f2b3"/><circle cx="408.0" cy="194.8" r="2.4" fill="#f7f2b3"/><circle cx="423.0" cy="198.6" r="2.4" fill="#f08967"/><circle cx="422.5" cy="199.7" r="2.4" fill="#f9e3a1"/><circle cx="426.8" cy="206.6" r="2.4" fill="#45237a"/><circle cx="427.3" cy="208.8" r="2.4" fill="#f7f2b3"/><circle cx="437.5" cy="204.5" r="2.4" fill="#f9e3a1"/><circle cx="434.3" cy="209.3" r="2.4" fill="#f7f2b3"/><circle cx="423.0" cy="214.1" r="2.4" fill="#f7f2b3"/><circle cx="412.9" cy="219.0" r="2.4" fill="#f08967"/><circle cx="459.0" cy="193.2" r="2.4" fill="#45237a"/><circle cx="451.4" cy="200.7" r="2.4" fill="#f6aa74"/><circle cx="541.4" cy="156.2" r="2.4" fill="#f08967"/><circle cx="569.8" cy="197.6" r="2.4" fill="#f08967"/><circle cx="582.8" cy="197.6" r="2.4" fill="#f08967"/><circle cx="561.6" cy="203.9" r="2.4" fill="#f8cb8b"/><circle cx="575.5" cy="207.1" r="2.4" fill="#a0468b"/><circle cx="578.8" cy="210.9" r="2.4" fill="#a0468b"/><circle cx="575.0" cy="212.0" r="2.4" fill="#f9e3a1"/><circle cx="564.8" cy="212.5" r="2.4" fill="#f7f2b3"/><circle cx="570.7" cy="214.7" r="2.4" fill="#f8cb8b"/><circle cx="573.9" cy="215.2" r="2.4" fill="#f8cb8b"/><circle cx="567.5" cy="218.4" r="2.4" fill="#f7f2b3"/><circle cx="598.0" cy="210.9" r="2.4" fill="#f8cb8b"/><circle cx="602.3" cy="212.0" r="2.4" fill="#a0468b"/><circle cx="597.0" cy="214.7" r="2.4" fill="#e1646d"/><circle cx="599.1" cy="214.1" r="2.4" fill="#f08967"/><circle cx="606.6" cy="216.3" r="2.4" fill="#72368b"/><circle cx="605.0" cy="219.5" r="2.4" fill="#f6aa74"/><circle cx="612.5" cy="218.4" r="2.4" fill="#f08967"/><circle cx="601.3" cy="221.6" r="2.4" fill="#f9e3a1"/><circle cx="602.9" cy="224.8" r="2.4" fill="#f6aa74"/><circle cx="608.2" cy="225.9" r="2.4" fill="#f6aa74"/><circle cx="611.4" cy="223.2" r="2.4" fill="#f8cb8b"/><circle cx="614.7" cy="225.9" r="2.4" fill="#f08967"/><circle cx="615.7" cy="222.2" r="2.4" fill="#f7f2b3"/><circle cx="613.6" cy="232.3" r="2.4" fill="#f6aa74"/><circle cx="604.9" cy="187.3" r="2.4" fill="#e1646d"/><circle cx="659.8" cy="225.9" r="2.4" fill="#f08967"/><circle cx="650.5" cy="235.3" r="2.4" fill="#f08967"/><circle cx="645.8" cy="238.1" r="2.4" fill="#f08967"/><circle cx="625.8" cy="58.6" r="2.4" fill="#f08967"/><circle cx="634.4" cy="57.3" r="2.4" fill="#f6aa74"/><circle cx="638.0" cy="67.7" r="2.4" fill="#f8cb8b"/><circle cx="192.1" cy="71.8" r="2.4" fill="#f7f2b3"/><circle cx="198.0" cy="69.7" r="2.4" fill="#f9e3a1"/><circle cx="194.3" cy="75.0" r="2.4" fill="#f9e3a1"/><circle cx="200.7" cy="76.1" r="2.4" fill="#f8cb8b"/><circle cx="203.9" cy="69.7" r="2.4" fill="#f8cb8b"/><circle cx="201.8" cy="63.8" r="2.4" fill="#f8cb8b"/><circle cx="214.7" cy="63.2" r="2.4" fill="#f8cb8b"/><circle cx="218.9" cy="65.4" r="2.4" fill="#f9e3a1"/><circle cx="222.2" cy="62.1" r="2.4" fill="#f6aa74"/><circle cx="211.4" cy="73.9" r="2.4" fill="#f9e3a1"/><circle cx="221.1" cy="75.0" r="2.4" fill="#f9e3a1"/><circle cx="227.5" cy="75.0" r="2.4" fill="#f6aa74"/><circle cx="234.0" cy="73.9" r="2.4" fill="#f6aa74"/><circle cx="229.7" cy="57.9" r="2.4" fill="#f6aa74"/><circle cx="238.2" cy="57.9" r="2.4" fill="#f6aa74"/><circle cx="191.1" cy="64.3" r="2.4" fill="#f9e3a1"/><circle cx="199.7" cy="81.4" r="2.4" fill="#f6aa74"/><circle cx="206.1" cy="85.7" r="2.4" fill="#f08967"/><circle cx="215.7" cy="86.8" r="2.4" fill="#f6aa74"/><circle cx="220.0" cy="94.3" r="2.4" fill="#f6aa74"/><circle cx="225.4" cy="89.0" r="2.4" fill="#f6aa74"/><circle cx="230.7" cy="91.1" r="2.4" fill="#f08967"/><circle cx="239.3" cy="90.0" r="2.4" fill="#f08967"/><circle cx="238.2" cy="97.5" r="2.4" fill="#f6aa74"/><circle cx="225.4" cy="96.4" r="2.4" fill="#f8cb8b"/><circle cx="228.6" cy="80.4" r="2.4" fill="#f6aa74"/><circle cx="223.2" cy="80.4" r="2.4" fill="#f6aa74"/><circle cx="240.4" cy="77.2" r="2.4" fill="#f6aa74"/><circle cx="205.0" cy="75.0" r="2.4" fill="#f6aa74"/><circle cx="424.3" cy="61.1" r="2.4" fill="#f08967"/><circle cx="416.8" cy="71.8" r="2.4" fill="#f08967"/><circle cx="428.6" cy="66.4" r="2.4" fill="#f08967"/><circle cx="422.2" cy="75.0" r="2.4" fill="#f08967"/><circle cx="428.6" cy="75.0" r="2.4" fill="#f6aa74"/><circle cx="413.6" cy="68.6" r="2.4" fill="#f6aa74"/><circle cx="408.2" cy="66.4" r="2.4" fill="#f8cb8b"/><circle cx="400.7" cy="72.9" r="2.4" fill="#f6aa74"/><circle cx="398.6" cy="77.2" r="2.4" fill="#f6aa74"/><circle cx="407.2" cy="81.4" r="2.4" fill="#f6aa74"/><circle cx="424.3" cy="83.6" r="2.4" fill="#f6aa74"/><circle cx="397.5" cy="90.0" r="2.4" fill="#f6aa74"/><circle cx="386.8" cy="92.2" r="2.4" fill="#f6aa74"/><circle cx="429.3" cy="61.1" r="2.4" fill="#f08967"/><circle cx="436.8" cy="65.4" r="2.4" fill="#f08967"/><circle cx="441.1" cy="71.8" r="2.4" fill="#f08967"/><circle cx="430.4" cy="71.8" r="2.4" fill="#f08967"/><circle cx="435.7" cy="73.9" r="2.4" fill="#f08967"/><circle cx="435.7" cy="80.4" r="2.4" fill="#f6aa74"/><circle cx="441.1" cy="78.2" r="2.4" fill="#f6aa74"/><circle cx="431.4" cy="90.0" r="2.4" fill="#f6aa74"/><circle cx="443.2" cy="91.1" r="2.4" fill="#f08967"/><circle cx="446.4" cy="94.3" r="2.4" fill="#f08967"/><circle cx="508.2" cy="108.9" r="2.4" fill="#f6aa74"/><circle cx="514.7" cy="111.1" r="2.4" fill="#f8cb8b"/><circle cx="520.0" cy="110.0" r="2.4" fill="#f6aa74"/><circle cx="525.4" cy="113.2" r="2.4" fill="#f6aa74"/><circle cx="513.6" cy="116.4" r="2.4" fill="#f9e3a1"/><circle cx="515.7" cy="119.7" r="2.4" fill="#f7f2b3"/><circle cx="521.1" cy="119.7" r="2.4" fill="#f9e3a1"/><circle cx="524.3" cy="119.7" r="2.4" fill="#f8cb8b"/><circle cx="506.1" cy="117.5" r="2.4" fill="#f6aa74"/><circle cx="511.4" cy="113.2" r="2.4" fill="#f8cb8b"/><circle cx="532.9" cy="110.0" r="2.4" fill="#f6aa74"/><circle cx="538.2" cy="108.4" r="2.4" fill="#f08967"/><circle cx="564.6" cy="115.4" r="2.4" fill="#e1646d"/><circle cx="561.4" cy="119.7" r="2.4" fill="#e1646d"/><circle cx="567.9" cy="116.4" r="2.4" fill="#e1646d"/><circle cx="558.2" cy="118.0" r="2.4" fill="#f08967"/><circle cx="232.9" cy="113.8" r="2.4" fill="#72368b"/>
<rect x="100.35" y="25.0" width="565.45" height="281.70" fill="none" stroke="#6e6e6e" stroke-width="1.4"/>
<g stroke="#6e6e6e" stroke-width="1.4"><line x1="91.2" y1="72" x2="100.35" y2="72"/><line x1="91.2" y1="119" x2="100.35" y2="119"/><line x1="91.2" y1="166" x2="100.35" y2="166"/><line x1="91.2" y1="213" x2="100.35" y2="213"/><line x1="91.2" y1="260" x2="100.35" y2="260"/><line x1="100.35" y1="306.7" x2="100.35" y2="315"/><line x1="194.59" y1="306.7" x2="194.59" y2="315"/><line x1="288.83" y1="306.7" x2="288.83" y2="315"/><line x1="383.07" y1="306.7" x2="383.07" y2="315"/><line x1="477.32" y1="306.7" x2="477.32" y2="315"/><line x1="571.56" y1="306.7" x2="571.56" y2="315"/><line x1="100.35" y1="419" x2="100.35" y2="427.8"/><line x1="213.44" y1="419" x2="213.44" y2="427.8"/><line x1="326.53" y1="419" x2="326.53" y2="427.8"/><line x1="439.62" y1="419" x2="439.62" y2="427.8"/><line x1="552.71" y1="419" x2="552.71" y2="427.8"/><line x1="665.80" y1="419" x2="665.80" y2="427.8"/></g>
<rect x="100.35" y="392" width="565.45" height="27" fill="url(#cb)" stroke="#555" stroke-width="1.2"/>
<text x="42.4" y="77.0" font-size="16.8" textLength="41.15" lengthAdjust="spacingAndGlyphs">60°N</text>
<text x="42.7" y="123.7" font-size="16.8" textLength="40.84" lengthAdjust="spacingAndGlyphs">30°N</text>
<text x="66.0" y="170.7" font-size="16.8" textLength="17.05" lengthAdjust="spacingAndGlyphs">0°</text>
<text x="44.4" y="217.7" font-size="16.8" textLength="38.26" lengthAdjust="spacingAndGlyphs">30°S</text>
<text x="44.4" y="264.7" font-size="16.8" textLength="38.26" lengthAdjust="spacingAndGlyphs">60°S</text>
<text x="81.56" y="337.3" font-size="17.4" textLength="37.25" lengthAdjust="spacingAndGlyphs">180°</text>
<text x="167.04" y="337.3" font-size="17.4" textLength="55.18" lengthAdjust="spacingAndGlyphs">120° W</text>
<text x="264.8" y="337.3" font-size="17.4" textLength="47.45" lengthAdjust="spacingAndGlyphs">60° W</text>
<text x="374.8" y="337.3" font-size="17.4" textLength="18.1" lengthAdjust="spacingAndGlyphs">0°</text>
<text x="456.3" y="337.3" font-size="17.4" textLength="42.04" lengthAdjust="spacingAndGlyphs">60° E</text>
<text x="546.46" y="337.3" font-size="17.4" textLength="49.22" lengthAdjust="spacingAndGlyphs">120° E</text>
<text x="335.88" y="370.8" font-size="21" textLength="94.09" lengthAdjust="spacingAndGlyphs">Longitude</text>
<text transform="rotate(-90)" x="-201.32" y="25.4" font-size="21" textLength="73.71" lengthAdjust="spacingAndGlyphs">Latitude</text>
<text x="89.0" y="449.25" font-size="17.9" textLength="22.58" lengthAdjust="spacingAndGlyphs">0%</text>
<text x="196.7" y="449.25" font-size="17.9" textLength="33.13" lengthAdjust="spacingAndGlyphs">20%</text>
<text x="310.0" y="449.25" font-size="17.9" textLength="33.52" lengthAdjust="spacingAndGlyphs">40%</text>
<text x="421.8" y="449.25" font-size="17.9" textLength="34.52" lengthAdjust="spacingAndGlyphs">60%</text>
<text x="534.8" y="449.25" font-size="17.9" textLength="34.52" lengthAdjust="spacingAndGlyphs">80%</text>
<text x="643.46" y="449.25" font-size="17.9" textLength="43.02" lengthAdjust="spacingAndGlyphs">100%</text>
<text x="160.81" y="480.4" font-size="20.7" textLength="45.94" lengthAdjust="spacingAndGlyphs">HTEs</text>
<text x="213.1" y="480.4" font-size="20.7" textLength="114.22" lengthAdjust="spacingAndGlyphs">contribution</text>
<text x="334.2" y="480.4" font-size="20.7" textLength="20.31" lengthAdjust="spacingAndGlyphs">to</text>
<text x="357.7" y="480.4" font-size="20.7" textLength="75.81" lengthAdjust="spacingAndGlyphs">summer</text>
<text x="440.32" y="480.4" font-size="20.7" textLength="50.61" lengthAdjust="spacingAndGlyphs">mean</text>
<text x="496.27" y="480.4" font-size="20.7" textLength="53.36" lengthAdjust="spacingAndGlyphs">LSWT</text>
<text x="555.6" y="480.4" font-size="20.7" textLength="48.96" lengthAdjust="spacingAndGlyphs">trend</text>
</svg></div>
</body></html>
